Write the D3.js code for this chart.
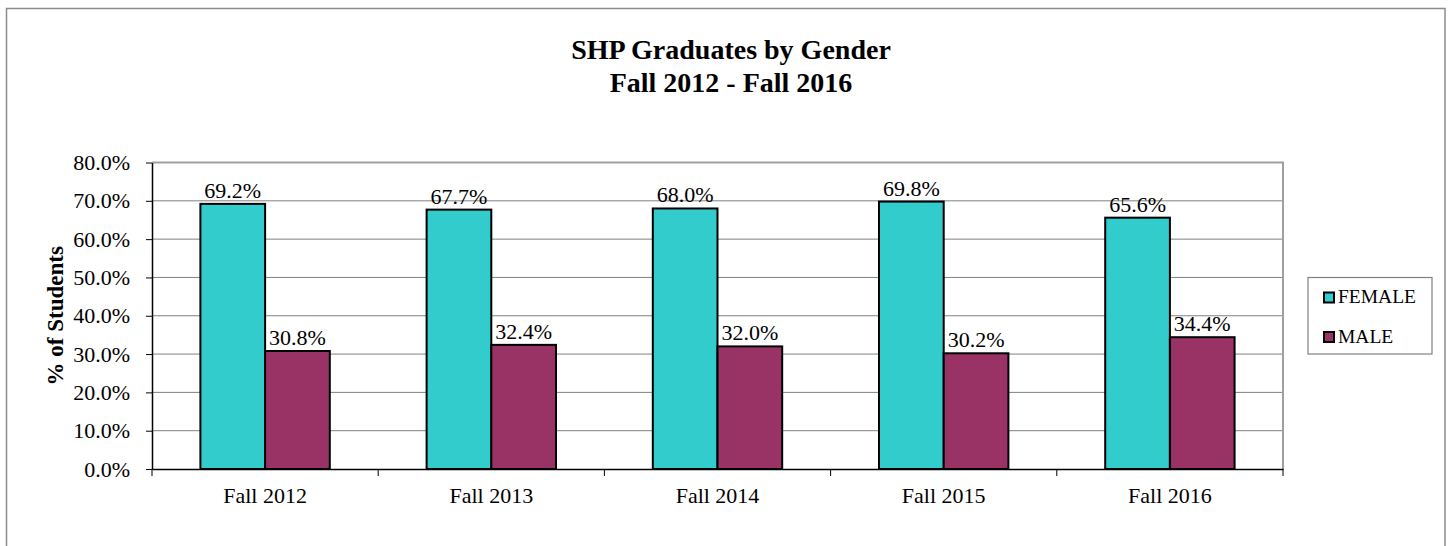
<!DOCTYPE html>
<html>
<head>
<meta charset="utf-8">
<script src="https://cdn.jsdelivr.net/npm/d3@7"></script>
<style>
  html, body { margin: 0; padding: 0; background: #fff; }
  svg { display: block; }
</style>
</head>
<body>
<svg id="chart" width="1449" height="546"></svg>
<script>
const categories = ["Fall 2012", "Fall 2013", "Fall 2014", "Fall 2015", "Fall 2016"];
const seriesNames = ["FEMALE", "MALE"];
const femaleValues = [0.692, 0.677, 0.680, 0.698, 0.656];
const maleValues = [0.308, 0.324, 0.320, 0.302, 0.344];
const yTicks = [0, 0.1, 0.2, 0.3, 0.4, 0.5, 0.6, 0.7, 0.8];
const titleLines = ["SHP Graduates by Gender", "Fall 2012 - Fall 2016"];
const yAxisTitle = "% of Students";
const colors = { FEMALE: "#33CCCC", MALE: "#993366" };

const FONT = '"Liberation Serif", "Times New Roman", Times, serif';
const seriesValues = { FEMALE: femaleValues, MALE: maleValues };

const svg = d3.select("#chart").style("font-family", FONT).attr("font-family", FONT);
const plot = { left: 152, right: 1283, top: 162.5, bottom: 469 };

// outer chart border
svg.append("rect")
  .attr("x", 6.5).attr("y", 8.5).attr("width", 1438.5).attr("height", 560)
  .attr("fill", "none").attr("stroke", "#8c8c8c").attr("stroke-width", 1.5);

// title
svg.append("g").selectAll("text").data(titleLines).join("text")
  .attr("x", 731).attr("y", (d, i) => 59 + i * 33)
  .attr("text-anchor", "middle")
  .style("font-family", FONT)
  .style("font-size", "28px").style("font-weight", "bold")
  .text(d => d);

const x0 = d3.scaleBand().domain(categories).range([plot.left, plot.right]).padding(0);
const groupW = x0.bandwidth() * 0.572;
const x1 = d3.scaleBand().domain(seriesNames).range([0, groupW]).padding(0);
const y = d3.scaleLinear().domain([0, 0.8]).range([plot.bottom, plot.top]);

// gridlines
svg.append("g").selectAll("line").data(yTicks.filter(t => t > 0 && t < 0.8)).join("line")
  .attr("x1", plot.left).attr("x2", plot.right)
  .attr("y1", d => y(d)).attr("y2", d => y(d))
  .attr("stroke", "#808080").attr("stroke-width", 1);

// plot area top/right border
svg.append("path")
  .attr("d", `M${plot.left},${y(0.8)}H${plot.right}V${plot.bottom}`)
  .attr("fill", "none").attr("stroke", "#a0a0a0").attr("stroke-width", 2);

// bars
const groups = svg.append("g").selectAll("g").data(categories).join("g")
  .attr("transform", c => `translate(${x0(c) + (x0.bandwidth() - groupW) / 2},0)`);

groups.selectAll("rect").data((c, i) => seriesNames.map(s => ({ s, v: seriesValues[s][i] }))).join("rect")
  .attr("x", d => x1(d.s))
  .attr("y", d => y(d.v))
  .attr("width", x1.bandwidth())
  .attr("height", d => y(0) - y(d.v))
  .attr("fill", d => colors[d.s])
  .attr("stroke", "#000").attr("stroke-width", 2);

groups.selectAll("text").data((c, i) => seriesNames.map(s => ({ s, v: seriesValues[s][i] }))).join("text")
  .attr("x", d => x1(d.s) + x1.bandwidth() / 2)
  .attr("y", d => y(d.v) - 6)
  .attr("text-anchor", "middle")
  .style("font-family", FONT)
  .style("font-size", "22px")
  .attr("fill", "#000")
  .text(d => d3.format(".1%")(d.v));

// y axis
const yAxis = svg.append("g").attr("transform", `translate(${plot.left},0)`)
  .call(d3.axisLeft(y).tickValues(yTicks).tickFormat(d3.format(".1%")).tickSize(6).tickPadding(16).tickSizeOuter(0));
yAxis.attr("font-family", FONT);
yAxis.select(".domain").attr("stroke", "#000").attr("stroke-width", 1.5);
yAxis.selectAll(".tick line").attr("stroke", "#000").attr("stroke-width", 1);
yAxis.selectAll(".tick text").style("font-size", "22px").attr("fill", "#000")
  .style("font-family", FONT);

// x axis (labels at band centres)
const xAxis = svg.append("g").attr("transform", `translate(0,${plot.bottom})`)
  .call(d3.axisBottom(x0).tickSize(0).tickPadding(18).tickSizeOuter(0));
xAxis.attr("font-family", FONT);
xAxis.select(".domain").attr("stroke", "#000").attr("stroke-width", 1.5);
xAxis.selectAll(".tick text").style("font-size", "22px").attr("fill", "#000")
  .style("font-family", FONT);

// x tick marks at category boundaries
const boundaries = categories.map(c => x0(c)).concat([x0.range()[1]]);
svg.append("g").selectAll("line").data(boundaries).join("line")
  .attr("x1", d => d).attr("x2", d => d)
  .attr("y1", plot.bottom).attr("y2", plot.bottom + 7)
  .attr("stroke", "#000").attr("stroke-width", 1);

// y axis title
svg.append("text")
  .attr("transform", `translate(63,${(plot.top + plot.bottom) / 2}) rotate(-90)`)
  .attr("text-anchor", "middle")
  .style("font-family", FONT)
  .style("font-size", "23px").style("font-weight", "bold")
  .text(yAxisTitle);

// legend
const lg = svg.append("g");
lg.append("rect").attr("x", 1308).attr("y", 277.5).attr("width", 124).attr("height", 76.5)
  .attr("fill", "#fff").attr("stroke", "#808080").attr("stroke-width", 1.2);
const items = lg.selectAll("g").data(seriesNames).join("g")
  .attr("transform", (d, i) => `translate(1324,${303 + i * 39.5})`);
items.append("rect").attr("x", 0).attr("y", -10.5).attr("width", 10).attr("height", 10)
  .attr("fill", d => colors[d]).attr("stroke", "#000").attr("stroke-width", 2);
items.append("text").attr("x", 14).attr("y", 0)
  .style("font-family", FONT)
  .style("font-size", "19.5px").text(d => d);
</script>
</body>
</html>
